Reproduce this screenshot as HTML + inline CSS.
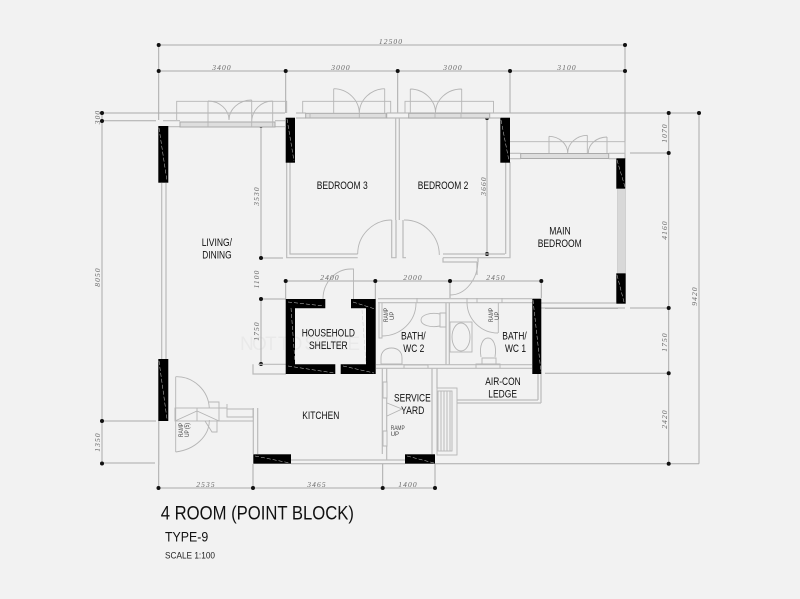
<!DOCTYPE html>
<html><head><meta charset="utf-8"><style>
html,body{margin:0;padding:0;background:#f2f2f2}
svg{display:block}
.t{font-family:"Liberation Sans",sans-serif;font-size:11.2px;fill:#111}
.s{font-family:"Liberation Sans",sans-serif;font-size:6px;fill:#444}
.d{font-family:"Liberation Serif",serif;font-style:italic;font-size:7.5px;fill:#666;letter-spacing:1.1px;text-anchor:middle}
</style></head><body>
<svg width="800" height="599" viewBox="0 0 800 599" xmlns="http://www.w3.org/2000/svg">
<rect width="800" height="599" fill="#f2f2f2"/>

<!-- faint watermark -->
<text x="240" y="350" font-family="Liberation Sans, sans-serif" font-size="19" fill="#e9e9e9" textLength="120">NOT TO SCALE</text>

<!-- dimension lines -->
<g fill="none" stroke="#aaa" stroke-width="1">
<path d="M158.7 45H625M158.7 71H625M158.7 45V120M285.7 71V113M397.700 71V113M510 71V113M625 45V153"/>
<path d="M102 113H285M102 120.7H156M102 113V463M102 421H156M102 463H155"/>
<path d="M510 113H699M630 153H668.7M668.7 113V463.7M699 113V463.7M630 308H668.7M545 308.500H618M545 373.3H668.7M291 463.7H405M435 463.7H699"/>
<path d="M261 126V258M261 258H283M261 299V364M261 299H286M487 118V254M487 254H505"/>
<path d="M285.7 281H541.3M285.7 281V299M375.3 281V299M450 281V298M541.3 281V298"/>
<path d="M158.7 488H435M158.7 421V488M253 464V488M382.7 464V488M435 464V488"/>
</g>
<g fill="#111">
<circle cx="158.7" cy="45" r="2"/><circle cx="625" cy="45" r="2"/>
<circle cx="158.7" cy="71" r="2"/><circle cx="285.7" cy="71" r="2"/><circle cx="397.7" cy="71" r="2"/><circle cx="510" cy="71" r="2"/><circle cx="625" cy="71" r="2"/>
<circle cx="102" cy="113" r="2"/><circle cx="102" cy="121" r="2"/><circle cx="102" cy="421" r="2"/><circle cx="102" cy="463.500" r="2"/>
<circle cx="261" cy="126" r="2"/><circle cx="261" cy="258" r="2"/><circle cx="261" cy="299" r="2"/><circle cx="261" cy="364" r="2"/>
<circle cx="487" cy="118" r="2"/><circle cx="487" cy="254" r="2"/>
<circle cx="668.7" cy="113" r="2"/><circle cx="699" cy="113" r="2"/><circle cx="668.7" cy="153" r="2"/><circle cx="668.7" cy="308" r="2"/><circle cx="668.7" cy="373.3" r="2"/><circle cx="668.7" cy="463.7" r="2"/>
<circle cx="285.7" cy="281" r="2"/><circle cx="375.3" cy="281" r="2"/><circle cx="450" cy="281" r="2"/><circle cx="541.3" cy="281" r="2"/>
<circle cx="158.5" cy="488" r="2"/><circle cx="253" cy="488" r="2"/><circle cx="382.7" cy="488" r="2"/><circle cx="435" cy="488" r="2"/>
</g>

<!-- walls -->
<g fill="none" stroke="#bbb" stroke-width="1.2">
<path d="M161.7 183V359M166 183V359"/>
<path d="M163 120.7H180M163 126.7H180M275 120.7H285M275 126.7H285"/>
<path d="M286.7 162V257.7H357.7M290 162V254H357.7"/>
<path d="M296 113H305.7M296 118H305.7M386.7 113H510M386.7 118H500"/>
<path d="M395.7 118V220M399.3 118V220M391.7 220V257.7H396V220M403 220V257.7H406"/>
<path d="M443 254H500M443 257.7H510V162M505.7 162V254"/>
<path d="M510 153.3H520.7M510 158.7H520.7M608.7 153.3H625M608.7 158.7H616M625 153V159"/>
<path d="M618 189V273M625 189V273"/>
<path d="M443 257.7V262H477M477 262V275M478 258V262"/>
<path d="M378 298.7H532M378 302.7H532M376 364.7H532M376 368.3H532M446 303V365M449.3 303V365"/>
<path d="M541 303H616M541 308H625"/>
<path d="M541 403V374M538 400V374M457 403H541M457 400H538"/>
<path d="M382.3 368V454M386.7 368V382M386.7 398V431M386.7 446V460M432 368V454M437 368V388"/>
<path d="M291 460H405M253.3 408V454M257.7 408V454"/>
<path d="M253 364.3V374H286M258 364.3H286"/>
<path d="M158.7 421V465"/>
</g>
<rect x="618" y="189" width="7" height="84" fill="#d8d8d8"/>

<!-- window frames -->
<g fill="#dedede" stroke="#aaa" stroke-width="1">
<rect x="180" y="122" width="95" height="5"/>
<rect x="305.7" y="113.3" width="81" height="4.7"/>
<rect x="408.7" y="113.3" width="81" height="4.7"/>
<rect x="520.7" y="153.500" width="88" height="5"/>
</g>
<!-- rails and door leaves -->
<g fill="none" stroke="#b5b5b5" stroke-width="0.9">
<path d="M176.7 120V101.3H286.7V113"/>
<path d="M208 101V127M229 120A21 19 0 0 0 208 101M251.7 100V127M229 120A23 20 0 0 1 251.7 100M272.7 101V127M251.7 122A21 21 0 0 1 272.7 101"/>
<path d="M302.7 113V101.3H390.7V113"/>
<path d="M333.7 88.7V113M359.3 113A26 25 0 0 0 333.7 88.7M384.7 88.7V113M359.3 113A26 25 0 0 1 384.7 88.7M359.3 113V118M310 113V118M386 113V118"/>
<path d="M405 113V101.3H493.5V113"/>
<path d="M410.3 89V113M435.5 113A26 24 0 0 0 410.3 89M461.7 89V113M435.5 113A26 24 0 0 1 461.7 89M435 113V118M461 113V118"/>
<path d="M510 141.7H625V153"/>
<path d="M549 136.3V153M567.7 153A19 17 0 0 0 549 136.3M587.3 135.3V153M567.7 153A20 18 0 0 1 587.3 135.3M607 137V153M588.3 153A19 16 0 0 1 607 137"/>
<path d="M391.7 220A34 34 0 0 0 357.7 254M404 220A35 35 0 0 1 439.3 255"/>
<path d="M478 260A28 35 0 0 1 450 295"/>
<path d="M351 269A28 30 0 0 0 323 299M351 269H353.5V299"/>
<path d="M379 303V338H382V303M382 336A34 33 0 0 0 416 303"/>
<path d="M467 303A31 31 0 0 0 498 333M498.3 303V333M502 303V298M467 303V298"/>
<path d="M440 313H446V327H440ZM440 314C430 312 421 315 421 320C421 325 430 328 440 326"/>
<rect x="450" y="322" width="22" height="30"/><ellipse cx="461" cy="337" rx="9" ry="14"/>
<path d="M481 357C479 345 483 338 488 338C493 338 497 345 495 357M482 358H496V364H482Z"/>
<path d="M381 364V358C381 351 386 348 391.500 348C397 348 402 351 402 358V364H381Z"/>
<rect x="437" y="388" width="20" height="67"/>
<rect x="438" y="391" width="14" height="60"/>
<path d="M441 391V451M444 391V451M447 391V451M450 391V451"/>
<path d="M387 403L402 409L387 416M383 382H387V398H383ZM383 431H387V446H383Z"/>
<path d="M175.700 376.700H177A33 33 0 0 1 209.300 408M175.700 376.700V452M175.700 452A40 32 0 0 0 209.300 420"/>
<rect x="175" y="408" width="44" height="13"/>
<path d="M175 421L197 411L219 421M197 408V421M209 402H219V408M217 421V432H212L205 421"/>
<path d="M219 408H227M219 421H253M227 409H253V417H227ZM227 404V417"/>
<path d="M404 368V365H428V368M476 368V364H500V368"/>
<path d="M417 298V303M477 298V303"/>
</g>

<!-- black walls -->
<g fill="#000">
<rect x="158.300" y="126" width="10" height="56.700"/>
<rect x="285.700" y="117.700" width="9.300" height="45"/>
<rect x="500.300" y="117.700" width="9.700" height="45"/>
<rect x="616.300" y="158.300" width="9" height="30.400"/>
<rect x="616.300" y="273.300" width="9.400" height="30.400"/>
<rect x="158.300" y="359" width="10" height="62"/>
<rect x="253.300" y="454.300" width="37.700" height="9.400"/>
<rect x="405" y="454.300" width="30" height="9.400"/>
<rect x="532.300" y="298.700" width="9" height="75.300"/>
<path fill-rule="evenodd" d="M285.700 299H325.300V308.300H295V364.300H335.300V374H285.700ZM351 299H375.700V374H340.700V364.300H366V308.300H351Z"/>
</g>
<g fill="none" stroke="#ccc" stroke-width="0.5" stroke-dasharray="4 2">
<path d="M159 128L167 181M287 119L294 161M501 120L509 161M617 160L625 187M617 275L624 302M159 361L167 419M533 300L541 372M291 308L295 362M288 302L324 306M353 302L375 309M362 310L366 364M288 366L334 373M343 366L374 373M255 456L290 463M407 456L434 463"/>
</g>

<!-- room labels -->
<g>
<text class="t" x="201.700" y="246" textLength="30.300" lengthAdjust="spacingAndGlyphs">LIVING/</text>
<text class="t" x="202.300" y="258.700" textLength="29.300" lengthAdjust="spacingAndGlyphs">DINING</text>
<text class="t" x="316.700" y="189" textLength="51" lengthAdjust="spacingAndGlyphs">BEDROOM 3</text>
<text class="t" x="417.700" y="189" textLength="50.600" lengthAdjust="spacingAndGlyphs">BEDROOM 2</text>
<text class="t" x="549.300" y="234.300" textLength="21.400" lengthAdjust="spacingAndGlyphs">MAIN</text>
<text class="t" x="537.700" y="247" textLength="44" lengthAdjust="spacingAndGlyphs">BEDROOM</text>
<text class="t" x="301.700" y="336.700" textLength="53.300" lengthAdjust="spacingAndGlyphs">HOUSEHOLD</text>
<text class="t" x="309" y="349" textLength="38.700" lengthAdjust="spacingAndGlyphs">SHELTER</text>
<text class="t" x="302.300" y="419" textLength="37" lengthAdjust="spacingAndGlyphs">KITCHEN</text>
<text class="t" x="394" y="401.700" textLength="36.700" lengthAdjust="spacingAndGlyphs">SERVICE</text>
<text class="t" x="401" y="414" textLength="23.300" lengthAdjust="spacingAndGlyphs">YARD</text>
<text class="t" x="401" y="339.300" textLength="24.700" lengthAdjust="spacingAndGlyphs">BATH/</text>
<text class="t" x="403.300" y="352" textLength="21" lengthAdjust="spacingAndGlyphs">WC 2</text>
<text class="t" x="502.300" y="339.300" textLength="24.400" lengthAdjust="spacingAndGlyphs">BATH/</text>
<text class="t" x="505" y="352" textLength="21" lengthAdjust="spacingAndGlyphs">WC 1</text>
<text class="t" x="485.300" y="385" textLength="35.400" lengthAdjust="spacingAndGlyphs">AIR-CON</text>
<text class="t" x="488.300" y="397.300" textLength="28.700" lengthAdjust="spacingAndGlyphs">LEDGE</text>
</g>
<text class="s" transform="translate(388 322) rotate(-90)" textLength="14" lengthAdjust="spacingAndGlyphs">RAMP</text>
<text class="s" transform="translate(394 320) rotate(-90)">UP</text>
<text class="s" transform="translate(493 322) rotate(-90)" textLength="14" lengthAdjust="spacingAndGlyphs">RAMP</text>
<text class="s" transform="translate(499 320) rotate(-90)">UP</text>
<text class="s" x="390.700" y="430" textLength="14" lengthAdjust="spacingAndGlyphs">RAMP</text>
<text class="s" x="390.700" y="436">UP</text>
<text class="s" transform="translate(183 437) rotate(-90)" textLength="14" lengthAdjust="spacingAndGlyphs">RAMP</text>
<text class="s" transform="translate(189 437) rotate(-90)" textLength="14" lengthAdjust="spacingAndGlyphs">UP (5)</text>

<!-- dimension labels -->
<text class="d" x="391" y="44">12500</text>
<text class="d" x="222" y="70">3400</text>
<text class="d" x="341" y="70">3000</text>
<text class="d" x="453" y="70">3000</text>
<text class="d" x="567" y="70">3100</text>
<text class="d" x="330" y="280">2400</text>
<text class="d" x="413" y="280">2000</text>
<text class="d" x="496" y="280">2450</text>
<text class="d" x="206" y="487">2535</text>
<text class="d" x="317" y="487">3465</text>
<text class="d" x="408" y="487">1400</text>
<text class="d" transform="translate(100 117) rotate(-90)">300</text>
<text class="d" transform="translate(100 277) rotate(-90)">8050</text>
<text class="d" transform="translate(100 442) rotate(-90)">1350</text>
<text class="d" transform="translate(259 196) rotate(-90)">3530</text>
<text class="d" transform="translate(259 279) rotate(-90)">1100</text>
<text class="d" transform="translate(259 331) rotate(-90)">1750</text>
<text class="d" transform="translate(486 186) rotate(-90)">3660</text>
<text class="d" transform="translate(667 133) rotate(-90)">1070</text>
<text class="d" transform="translate(667 230) rotate(-90)">4160</text>
<text class="d" transform="translate(667 342) rotate(-90)">1750</text>
<text class="d" transform="translate(667 419) rotate(-90)">2420</text>
<text class="d" transform="translate(697 296) rotate(-90)">9420</text>

<!-- title -->
<text x="160.700" y="519.300" font-family="Liberation Sans, sans-serif" font-size="19.500" fill="#111" textLength="193.300" lengthAdjust="spacingAndGlyphs">4 ROOM (POINT BLOCK)</text>
<text x="165" y="541.700" font-family="Liberation Sans, sans-serif" font-size="14" fill="#111" textLength="43.300" lengthAdjust="spacingAndGlyphs">TYPE-9</text>
<text x="165" y="558.300" font-family="Liberation Sans, sans-serif" font-size="9.500" fill="#222" textLength="50" lengthAdjust="spacingAndGlyphs">SCALE 1:100</text>
</svg>
</body></html>
